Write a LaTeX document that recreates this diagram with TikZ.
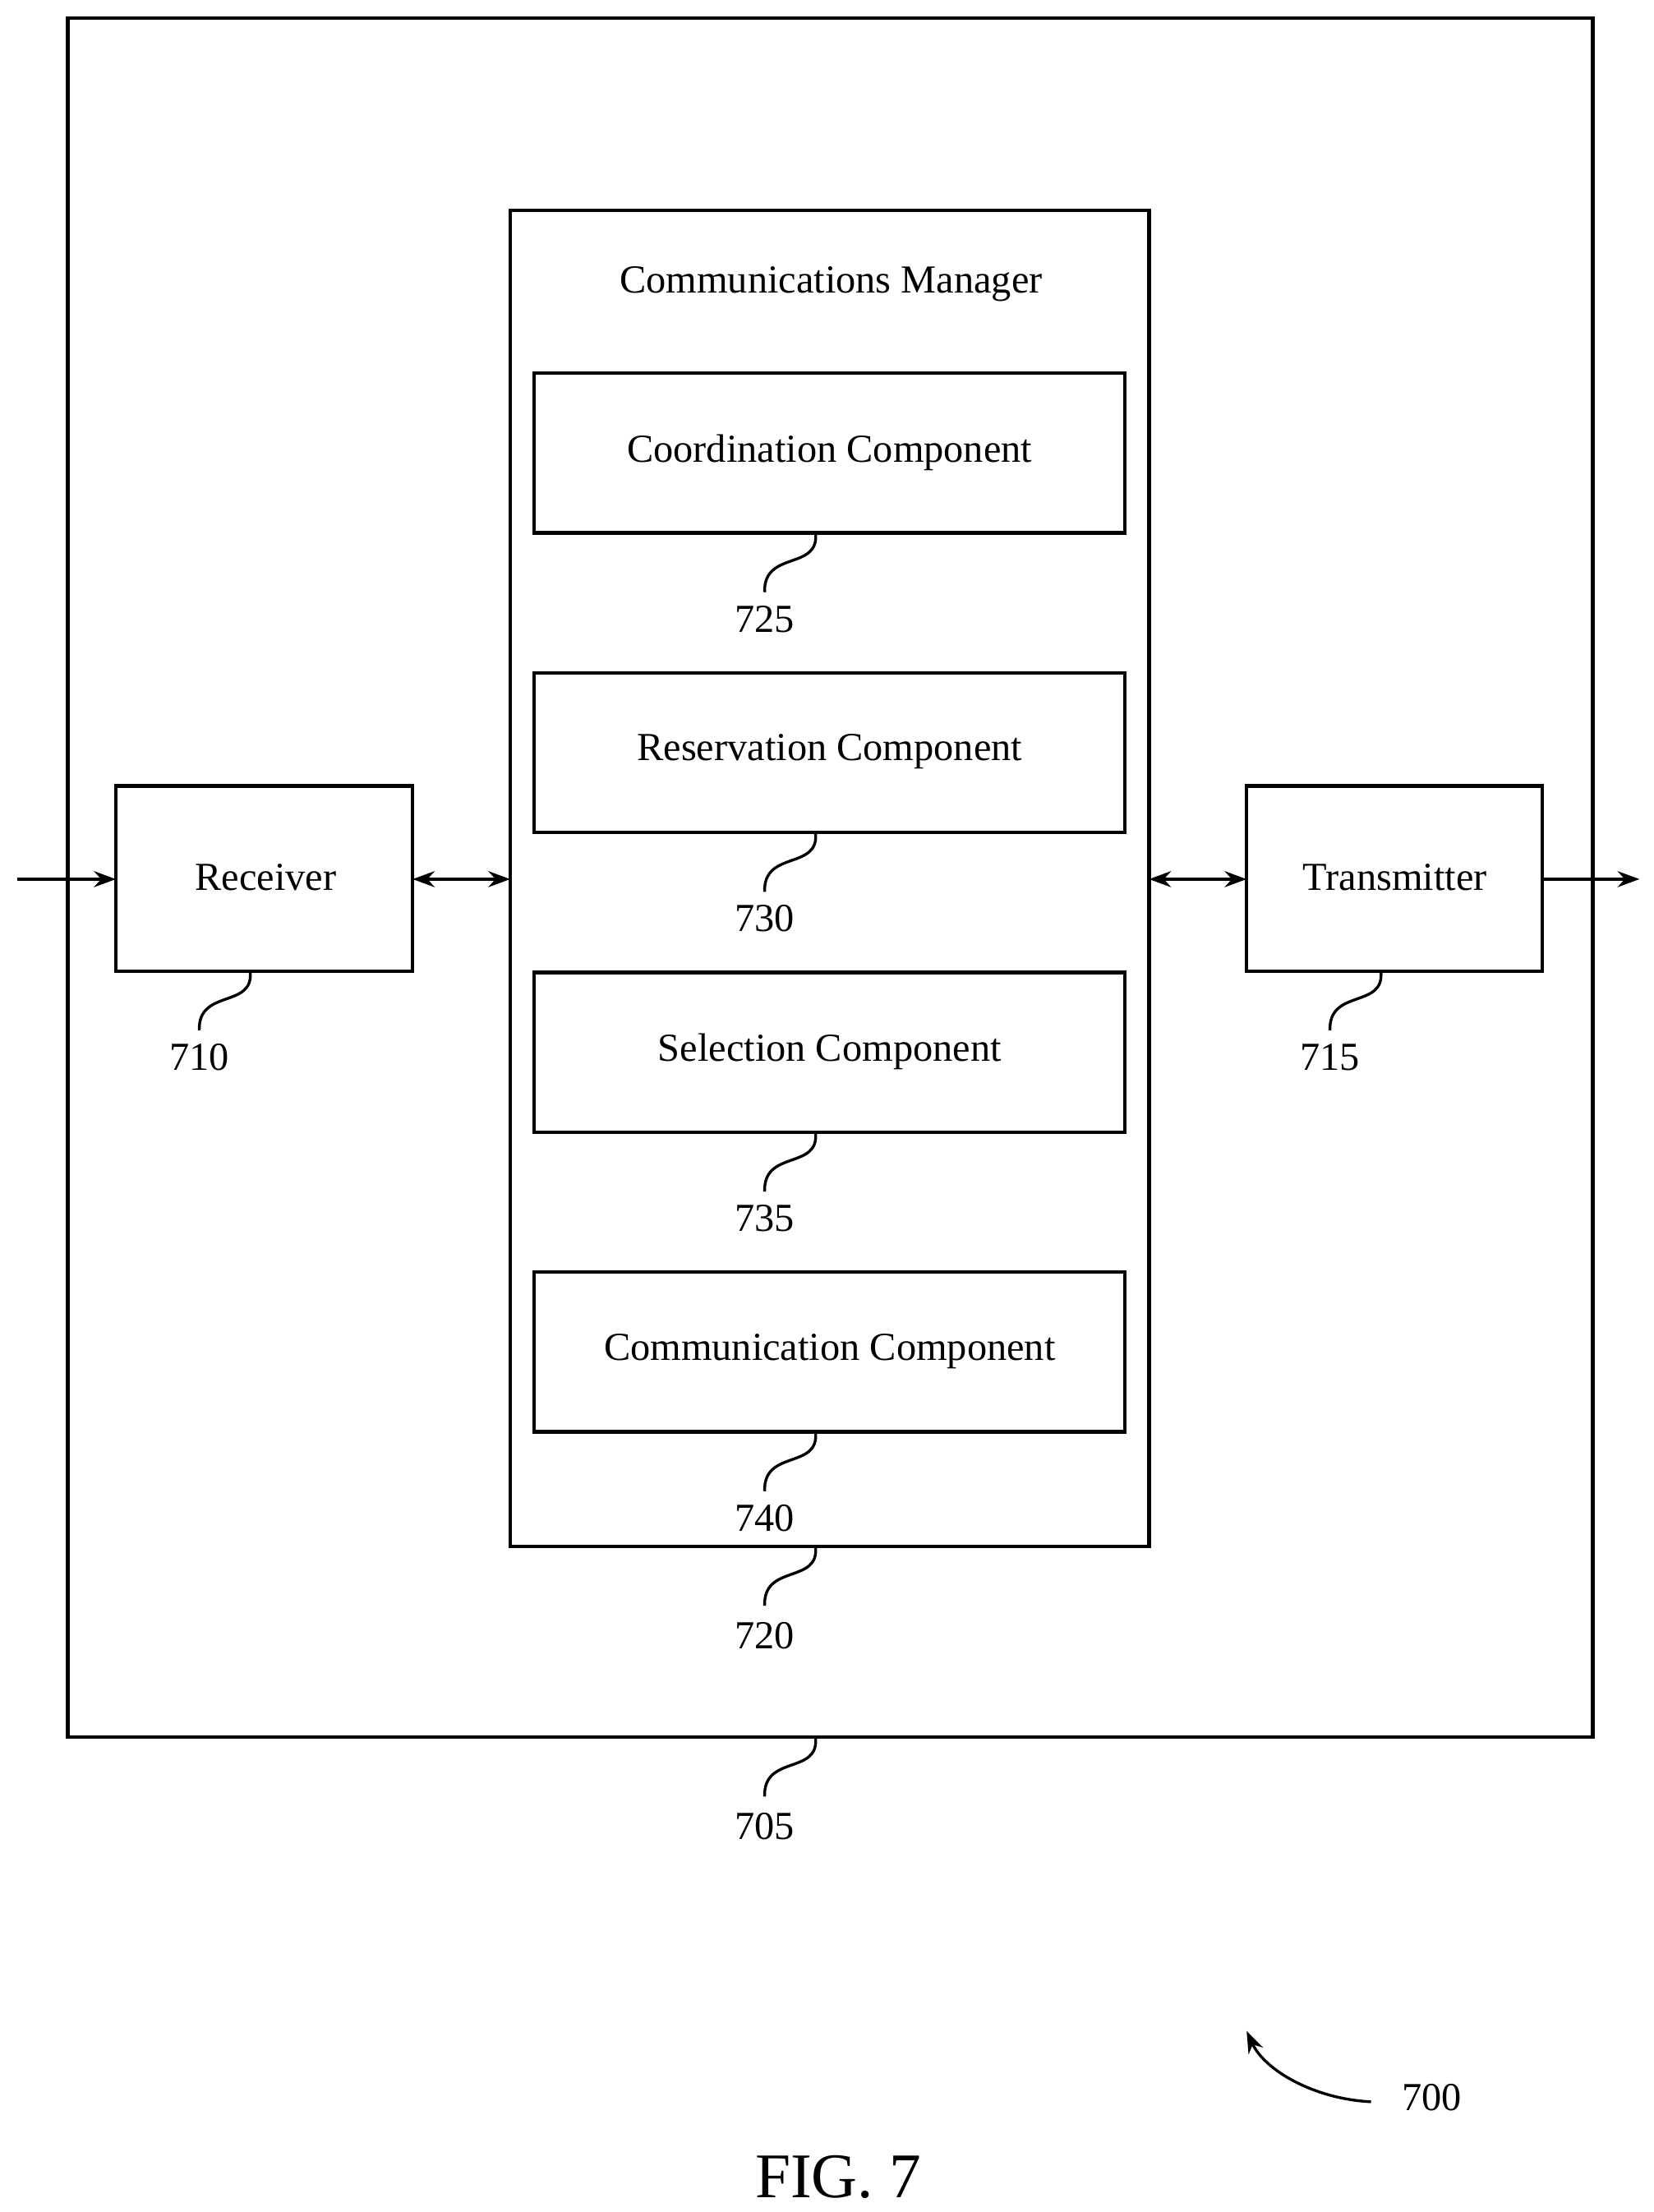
\documentclass[tikz,border=0pt]{standalone}
\usepackage{fontspec}
\setmainfont{Liberation Serif}
\usetikzlibrary{arrows.meta}
\begin{document}
\begin{tikzpicture}[x=0.05cm,y=-0.05cm,line width=3.5pt,
  box/.style={draw,line width=3.5pt},
  lead/.style={line width=2.8pt},
  txt/.style={font=\fontsize{40}{44}\selectfont},
  arr/.style={-{Stealth[length=22pt,width=16pt]}},
  darr/.style={{Stealth[length=22pt,width=16pt]}-{Stealth[length=22pt,width=16pt]}}]
\useasboundingbox (0,0) rectangle (1170,1565);
\draw[box] (48,13) rectangle (1127,1229);
\draw[box] (361,149) rectangle (813,1094);
\node[txt] (cmt) at (588,201) {Communications Manager};
\foreach \y/\t/\n in {264/Coordination Component/725,476/Reservation Component/730,688/Selection Component/735,900/Communication Component/740}{
  \draw[box] (378,\y) rectangle (796,\y+113);
  \node[txt] at (587,\y+56) {\t};
  \draw[lead] (577,\y+113) .. controls (580,\y+140) and (540,\y+125) .. (541,\y+155);
  \node[txt] at (541,\y+174) {\n};
}
\draw[box] (82,556) rectangle (292,687);
\node[txt] at (188,621) {Receiver};
\draw[lead] (177,687) .. controls (180,714) and (140,699) .. (141,729);
\node[txt] at (141,748) {710};
\draw[box] (882,556) rectangle (1091,687);
\node[txt] at (987,621) {Transmitter};
\draw[lead] (977,687) .. controls (980,714) and (940,699) .. (941,729);
\node[txt] at (941,748) {715};
\draw[lead] (577,1094) .. controls (580,1121) and (540,1106) .. (541,1136);
\node[txt] at (541,1157) {720};
\draw[lead] (577,1229) .. controls (580,1256) and (540,1241) .. (541,1271);
\node[txt] at (541,1292) {705};
\coordinate (in) at (12,622);
\coordinate (out) at (1160,622);
\draw[arr] (in) -- (82,622);
\draw[darr] (292,622) -- (361,622);
\draw[darr] (813,622) -- (882,622);
\draw[arr] (1091,622) -- (out);
\node[txt] (n700) at (1013,1484) {700};
\draw[arr,lead] (970,1487) .. controls (930,1485) and (895,1465) .. (882,1437);
\node[font=\fontsize{64}{68}\selectfont] at (593,1540) {FIG. 7};
\end{tikzpicture}
\end{document}
